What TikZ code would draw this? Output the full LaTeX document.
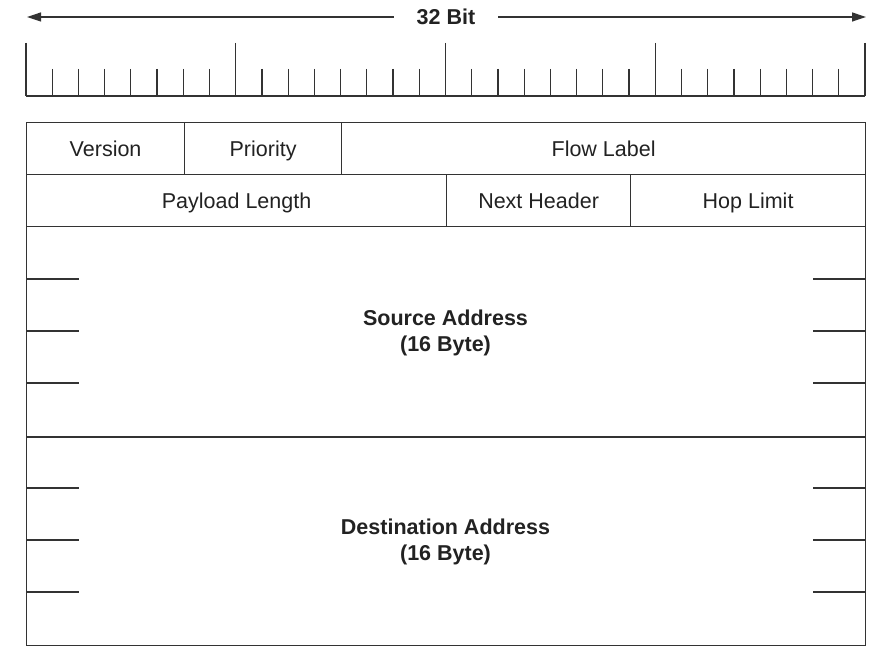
\documentclass[tikz,border=0pt]{standalone}
\usepackage{fontspec}
\setmainfont{Liberation Sans}
\usetikzlibrary{arrows.meta}
\definecolor{ink}{HTML}{222222}
\definecolor{rule}{HTML}{333333}
\begin{document}
\begin{tikzpicture}[x=1pt,y=-1pt,
  cell/.style={draw=rule, line width=1.2pt, inner sep=0pt, text=ink,
    font=\fontsize{21.5}{26}\selectfont, text height=15.4pt, text depth=0pt, anchor=north west},
  bold/.style={font=\fontsize{21.5}{26}\selectfont\bfseries},
  label/.style={text=ink, bold, inner sep=0pt, anchor=base},
  tick/.style={draw=rule, line width=1.2pt},
  half/.style={draw=rule, line width=1.2pt}]
\useasboundingbox[fill=white] (0,0) rectangle (875,660);
% title arrow
\node[text=ink, bold, inner xsep=23pt, inner ysep=0pt, text height=15.4pt, text depth=0pt] (title) at (446,17) {32 Bit};
\coordinate (arrL) at (27,17);
\coordinate (arrR) at (866,17);
\draw[rule, line width=1.2pt, -{Triangle[length=14pt,width=9pt]}] (title.west) -- (arrL);
\draw[rule, line width=1.2pt, -{Triangle[length=14pt,width=9pt]}] (title.east) -- (arrR);
% ruler
\draw[tick] (26,96) -- (865,96);
\foreach \i in {0,...,32}{
  \pgfmathsetmacro\xx{26+\i*26.21875}
  \pgfmathtruncatemacro\m{mod(\i,8)}
  \ifnum\m=0
    \draw[tick] (\xx,43) -- (\xx,96);
  \else
    \draw[tick] (\xx,69) -- (\xx,96);
  \fi
}
% row 1
\node[cell, minimum width=158pt, minimum height=52pt] (ver) at (26,122) {Version};
\node[cell, minimum width=157pt, minimum height=52pt] (pri) at (184,122) {Priority};
\node[cell, minimum width=524pt, minimum height=52pt] (flow) at (341,122) {Flow Label};
% row 2
\node[cell, minimum width=420pt, minimum height=52pt] (pay) at (26,174) {Payload Length};
\node[cell, minimum width=184pt, minimum height=52pt] (next) at (446,174) {Next Header};
\node[cell, minimum width=235pt, minimum height=52pt] (hop) at (630,174) {Hop Limit};
% source address
\node[cell, minimum width=839pt, minimum height=210pt] (src) at (26,226) {};
\node[label] (srcA) at (445.5,325) {Source Address};
\node[label] (srcB) at (445.5,351) {(16 Byte)};
% destination address
\node[cell, minimum width=839pt, minimum height=209pt] (dst) at (26,436) {};
\node[label] (dstA) at (445.5,534.5) {Destination Address};
\node[label] (dstB) at (445.5,560.5) {(16 Byte)};
\draw[rule, line width=2pt] (src.south west) -- (src.south east);
% partial word lines
\foreach \y in {279,331,383,488,540,592}{
  \draw[half] (26,\y) -- (79,\y);
  \draw[half] (813,\y) -- (865,\y);
}
\end{tikzpicture}
\end{document}
